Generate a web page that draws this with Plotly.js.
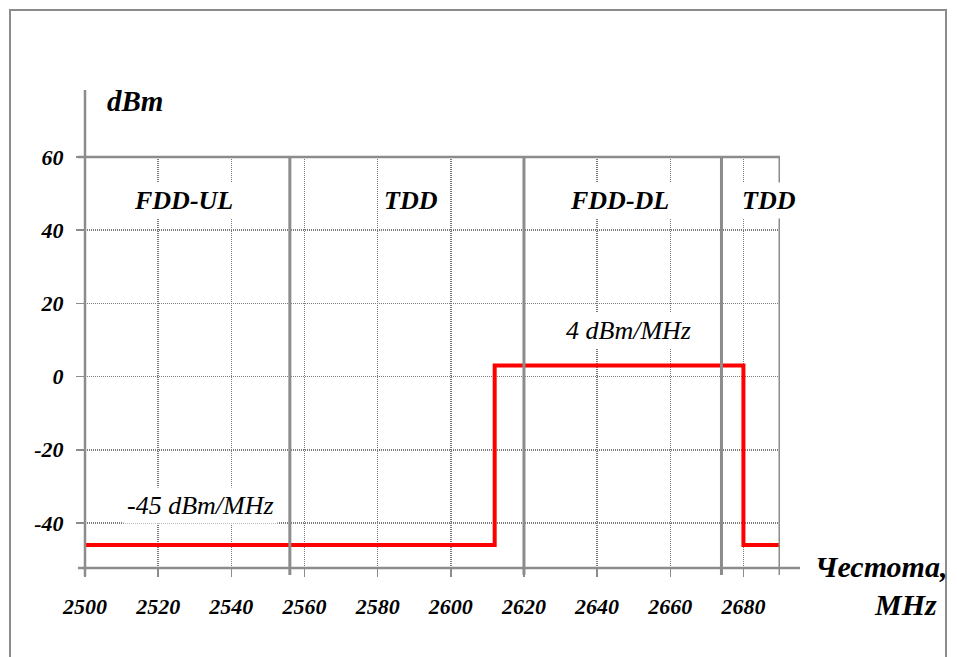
<!DOCTYPE html>
<html><head><meta charset="utf-8">
<script src="https://cdn.plot.ly/plotly-3.0.1.min.js"></script>
<style>html,body{margin:0;padding:0;background:#fff}</style>
</head><body><div id="chart" style="width:957px;height:657px"></div>
<script>
// Data
const freq = [2500, 2612, 2680, 2690];
const level = [-46, 3, -46, -46];
const bandEdges = [2556, 2620, 2674, 2690];
const bandNames = ["FDD-UL", "TDD", "FDD-DL", "TDD"];
const bandLabelX = [2527, 2589, 2646, 2687];
const xTicks = [2500, 2520, 2540, 2560, 2580, 2600, 2620, 2640, 2660, 2680];
const yTicks = [60, 40, 20, 0, -20, -40];
const yTickText = ["60", "40", "20", "0", "-20", "-40"];
const levelLabels = ["-45 dBm/MHz", "4 dBm/MHz"];

// Layout geometry (pixels)
const L = 85, R = 780, T = 157, B = 568;
const W = 957, H = 657;
const px = v => (v - L) / (R - L);
const py = v => (B - v) / (B - T);

const serif = "Liberation Serif";
const grey = "#8c8c8c";
const gridGrey = "#7a7a7a";

const shapes = [];
bandEdges.forEach(e => shapes.push({type: "line", xref: "x", yref: "paper", x0: e, x1: e, y0: py(575), y1: 1,
  line: {color: grey, width: 3}, layer: "above"}));
shapes.push({type: "line", xref: "paper", yref: "paper", x0: 0, x1: 0, y0: py(576), y1: py(90), line: {color: grey, width: 2.5}});
shapes.push({type: "line", xref: "paper", yref: "paper", x0: px(78), x1: px(800), y0: 0, y1: 0, line: {color: grey, width: 2.5}});
shapes.push({type: "line", xref: "paper", yref: "paper", x0: px(78), x1: 1, y0: 1, y1: 1, line: {color: grey, width: 2.5}});
shapes.push({type: "rect", xref: "paper", yref: "paper", x0: px(10), x1: px(946), y0: py(662), y1: py(10), line: {color: grey, width: 2}});

const bi = {family: serif, color: "#000", weight: "bold", style: "italic"};
const it = {family: serif, color: "#000", style: "italic"};
const annotations = [];
const ann = (x, y, xref, text, font, extra) => annotations.push(Object.assign({x: x, y: y, xref: xref, yref: "paper", text: text,
  showarrow: false, xanchor: "center", yanchor: "middle", font: font}, extra || {}));
bandNames.forEach((n, i) => ann(bandLabelX[i], py(200), "x", n, Object.assign({size: 26}, bi), {bgcolor: "#fff", borderpad: 3}));
ann(px(200), py(505), "paper", levelLabels[0], Object.assign({size: 26}, it), {bgcolor: "#fff", borderpad: 3});
ann(px(628), py(330), "paper", levelLabels[1], Object.assign({size: 26}, it), {bgcolor: "#fff", borderpad: 3});
ann(px(135), py(101), "paper", "dBm", Object.assign({size: 29}, bi));
ann(px(949), py(566), "paper", "Честота,", Object.assign({size: 30}, bi), {xanchor: "right"});
ann(px(939), py(604), "paper", "MHz", Object.assign({size: 30}, bi), {xanchor: "right"});

const trace = {x: freq, y: level, type: "scatter", mode: "lines", line: {shape: "hv", color: "#ff0000", width: 4}, hoverinfo: "skip"};

const layout = {
  width: W, height: H, showlegend: false,
  paper_bgcolor: "#fff", plot_bgcolor: "#fff",
  margin: {l: L, r: W - R, t: T, b: H - B, pad: 0},
  xaxis: {range: [2500, 2690], tickvals: xTicks, ticktext: xTicks.map(String), showgrid: true, gridcolor: gridGrey, griddash: "1px,1px", gridwidth: 1.5,
    ticks: "outside", ticklen: 8, tickcolor: grey, tickwidth: 1.5, showline: false, zeroline: false, ticklabelstandoff: 11,
    tickfont: Object.assign({size: 22}, bi)},
  yaxis: {range: [-52.3, 60], tickvals: yTicks, ticktext: yTickText, showgrid: true, gridcolor: gridGrey, griddash: "1px,1px", gridwidth: 1.5,
    ticks: "outside", ticklen: 8, tickcolor: grey, tickwidth: 1.5, showline: false, zeroline: false, ticklabelstandoff: 8,
    tickfont: Object.assign({size: 22}, bi)},
  shapes: shapes, annotations: annotations
};
Plotly.newPlot("chart", [trace], layout, {displayModeBar: false, staticPlot: true});
</script></body></html>
